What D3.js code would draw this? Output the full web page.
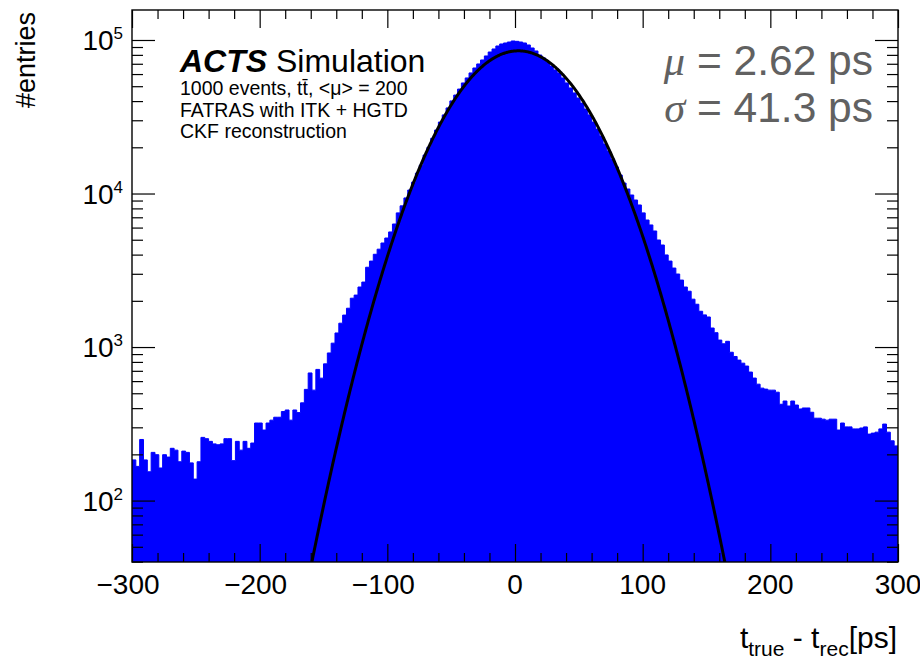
<!DOCTYPE html>
<html>
<head>
<meta charset="utf-8">
<script src="https://cdn.jsdelivr.net/npm/d3@7"></script>
<style>
  html, body { margin: 0; padding: 0; background: #fff; }
  svg { display: block; font-family: "Liberation Sans", Arial, Helvetica, sans-serif; }
</style>
</head>
<body>
<svg id="chart" width="920" height="659"></svg>
<script>
// Histogram of t_true - t_rec, 3 ps bins from -300 to 300 ps
const binLow = -300;
const binWidth = 3;
const counts = [
  184, 167, 250, 184, 154, 206, 199, 163, 199, 192,
  219, 213, 179, 210, 206, 176, 138, 179, 258, 253,
  243, 234, 231, 234, 253, 253, 182, 243, 213, 243,
  219, 237, 320, 320, 288, 320, 334, 349, 349, 380,
  389, 334, 389, 374, 433, 530, 678, 524, 715, 627,
  777, 915, 1060, 1235, 1430, 1615, 1790, 2080, 2180, 2460,
  2650, 3310, 3630, 4020, 4340, 4760, 5130, 5620, 6330, 7480,
  8310, 9360, 10540, 11860, 13570, 15300, 17800, 20000, 22900, 25900,
  29200, 32500, 36100, 40100, 43800, 47900, 52500, 56600, 61000, 65700,
  69800, 74100, 78700, 83500, 87400, 91400, 94200, 95600, 97000, 98500,
  98000, 97000, 95600, 92800, 88700, 84800, 79800, 76400, 71900, 67700,
  63800, 61000, 56600, 52500, 48700, 45200, 41900, 38800, 35500, 32500,
  29200, 26300, 23700, 21000, 18900, 16800, 14900, 13200, 11700, 10700,
  9780, 9070, 8420, 7480, 6720, 6240, 5700, 4980, 4620, 3980,
  3630, 3270, 2990, 2730, 2460, 2310, 2050, 1900, 1710, 1620,
  1570, 1330, 1240, 1110, 1050, 1090, 925, 868, 822, 785,
  752, 687, 628, 573, 540, 532, 524, 524, 508, 424,
  445, 413, 445, 419, 395, 401, 401, 376, 344, 344,
  339, 334, 339, 339, 288, 320, 302, 302, 293, 293,
  297, 302, 271, 275, 279, 293, 315, 279, 245, 227
];

// Gaussian fit parameters
const fitMean = 2.62;
const fitSigma = 41.3;
const fitConstant = 85000;

// Axis ranges and ticks
const xDomain = [-300, 300];
const yDomain = [39.8, 156800];
const xMajorTicks = [-300, -200, -100, 0, 100, 200, 300];
const xTickLabels = ["\u2212300", "\u2212200", "\u2212100", "0", "100", "200", "300"];
const yDecades = [2, 3, 4, 5];

// Annotation text
const titleBold = "ACTS";
const titleRest = "Simulation";
const infoLines = ["1000 events, t\u0074\u0304, <\u03bc> = 200", "FATRAS with ITK + HGTD", "CKF reconstruction"];
const fitLabels = [["\u03bc", " = 2.62 ps"], ["\u03c3", " = 41.3 ps"]];

const svg = d3.select("#chart");
const m = { left: 132, right: 898, top: 10, bottom: 562 };

const x = d3.scaleLinear().domain(xDomain).range([m.left, m.right]);
const y = d3.scaleLog().domain(yDomain).range([m.bottom, m.top]);

svg.append("defs").append("clipPath").attr("id", "plotclip")
  .append("rect")
  .attr("x", m.left).attr("y", m.top)
  .attr("width", m.right - m.left).attr("height", m.bottom - m.top);

const plot = svg.append("g").attr("clip-path", "url(#plotclip)");

// step outline of the histogram
const steps = [];
counts.forEach((c, i) => {
  const lo = binLow + i * binWidth;
  steps.push({ x: lo, c: c });
  steps.push({ x: lo + binWidth, c: c });
});

const area = d3.area()
  .x(d => x(d.x))
  .y0(m.bottom)
  .y1(d => y(d.c));

plot.append("path")
  .datum(steps)
  .attr("d", area)
  .attr("fill", "#0000ff")
  .attr("stroke", "#0000ff")
  .attr("stroke-width", 1);

// fit function
const fitPts = d3.range(xDomain[0], xDomain[1] + 0.25, 0.5).map(v => ({
  x: v,
  f: fitConstant * Math.exp(-0.5 * Math.pow((v - fitMean) / fitSigma, 2))
}));
const line = d3.line()
  .defined(d => d.f > 1)
  .x(d => x(d.x))
  .y(d => y(d.f));
plot.append("path")
  .datum(fitPts)
  .attr("d", line)
  .attr("fill", "none")
  .attr("stroke", "#000")
  .attr("stroke-width", 3);

// axes: major and minor ticks on all four sides
const xMinor = d3.range(-300, 301, 20).filter(v => v % 100 !== 0);
const yMinor = [];
for (let d = 1; d <= 5; d++) {
  for (let k = 2; k <= 9; k++) {
    const v = k * Math.pow(10, d);
    if (v >= yDomain[0] && v <= yDomain[1]) yMinor.push(v);
  }
}
const yMajor = yDecades.map(d => Math.pow(10, d));

function styleAxis(g) {
  g.select(".domain").remove();
  g.selectAll("text").remove();
  g.selectAll("line").attr("stroke", "#000").attr("stroke-width", 1.2);
}

svg.append("g").attr("transform", `translate(0,${m.bottom})`)
  .call(d3.axisBottom(x).tickValues(xMajorTicks).tickSize(-18)).call(styleAxis);
svg.append("g").attr("transform", `translate(0,${m.bottom})`)
  .call(d3.axisBottom(x).tickValues(xMinor).tickSize(-9)).call(styleAxis);
svg.append("g").attr("transform", `translate(0,${m.top})`)
  .call(d3.axisTop(x).tickValues(xMajorTicks).tickSize(-18)).call(styleAxis);
svg.append("g").attr("transform", `translate(0,${m.top})`)
  .call(d3.axisTop(x).tickValues(xMinor).tickSize(-9)).call(styleAxis);

svg.append("g").attr("transform", `translate(${m.left},0)`)
  .call(d3.axisLeft(y).tickValues(yMajor).tickSize(-23)).call(styleAxis);
svg.append("g").attr("transform", `translate(${m.left},0)`)
  .call(d3.axisLeft(y).tickValues(yMinor).tickSize(-11)).call(styleAxis);
svg.append("g").attr("transform", `translate(${m.right},0)`)
  .call(d3.axisRight(y).tickValues(yMajor).tickSize(-23)).call(styleAxis);
svg.append("g").attr("transform", `translate(${m.right},0)`)
  .call(d3.axisRight(y).tickValues(yMinor).tickSize(-11)).call(styleAxis);

// frame
svg.append("rect")
  .attr("x", m.left).attr("y", m.top)
  .attr("width", m.right - m.left).attr("height", m.bottom - m.top)
  .attr("fill", "none").attr("stroke", "#000").attr("stroke-width", 1.4);

// x tick labels
svg.append("g").selectAll("text")
  .data(xMajorTicks)
  .join("text")
  .attr("x", d => x(d) - (d < 0 ? 4 : 0))
  .attr("y", 594)
  .attr("text-anchor", "middle")
  .attr("font-size", 28)
  .attr("fill", "#000")
  .text((d, i) => xTickLabels[i]);

// y tick labels 10^n
const yl = svg.append("g").selectAll("text")
  .data(yDecades)
  .join("text")
  .attr("x", 123)
  .attr("y", d => y(Math.pow(10, d)) + 10)
  .attr("text-anchor", "end")
  .attr("font-size", 28)
  .attr("fill", "#000");
yl.append("tspan").text("10");
yl.append("tspan").attr("dy", -11).attr("font-size", 17).text(d => d);

// axis titles
svg.append("text")
  .attr("transform", "translate(35,12) rotate(-90)")
  .attr("text-anchor", "end")
  .attr("font-size", 27)
  .text("#entries");

const xt = svg.append("text")
  .attr("x", 897).attr("y", 648)
  .attr("text-anchor", "end")
  .attr("font-size", 30);
xt.append("tspan").text("t");
xt.append("tspan").attr("dy", 8).attr("font-size", 21).text("true");
xt.append("tspan").attr("dy", -8).text(" - t");
xt.append("tspan").attr("dy", 8).attr("font-size", 21).text("rec");
xt.append("tspan").attr("dy", -8).text("[ps]");

// experiment label
const t1 = svg.append("text").attr("x", 180).attr("y", 72).attr("font-size", 32);
t1.append("tspan").attr("font-weight", "bold").attr("font-style", "italic").text(titleBold);
t1.append("tspan").text(" " + titleRest);

svg.append("g").selectAll("text")
  .data(infoLines)
  .join("text")
  .attr("x", 180)
  .attr("y", (d, i) => 95 + i * 21.5)
  .attr("font-size", 19.5)
  .text(d => d);

// fit results
const fl = svg.append("g").selectAll("text")
  .data(fitLabels)
  .join("text")
  .attr("x", 873)
  .attr("y", (d, i) => 75 + i * 47)
  .attr("text-anchor", "end")
  .attr("font-size", 42.5)
  .attr("fill", "#616161");
fl.append("tspan")
  .attr("font-family", "'Liberation Serif', 'DejaVu Serif', serif")
  .attr("font-style", "italic")
  .text(d => d[0]);
fl.append("tspan").text(d => d[1]);
</script>
</body>
</html>
